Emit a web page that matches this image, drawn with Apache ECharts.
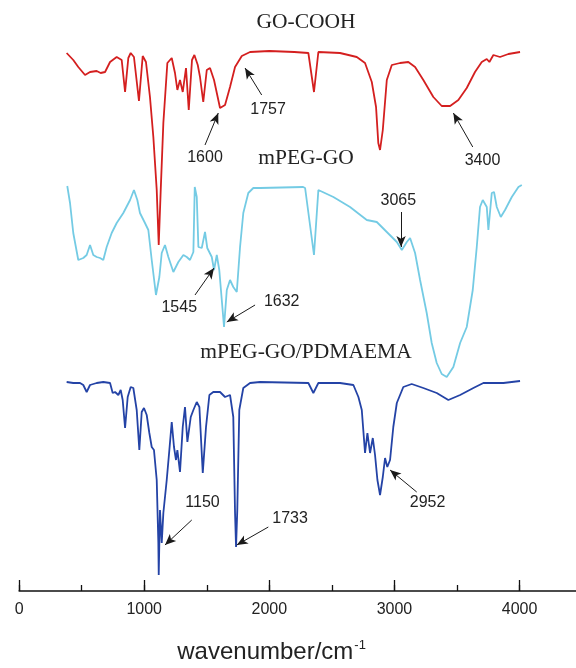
<!DOCTYPE html>
<html>
<head>
<meta charset="utf-8">
<script src="https://cdn.jsdelivr.net/npm/echarts@6/dist/echarts.min.js"></script>
<style>
  html, body { margin: 0; padding: 0; background: #fff; }
  #chartDom { width: 576px; height: 668px; }
</style>
</head>
<body>
<div id="chartDom"></div>
<script>
// FTIR spectra, offset vertically (arbitrary transmittance units)
// [wavenumber, offset transmittance]
const goCooh = [
  [380, 538], [433, 531], [473, 524], [527, 516], [567, 519], [620, 520], [652, 518],
  [687, 519], [727, 529], [780, 534], [820, 531], [847, 499], [873, 533], [892, 538],
  [918, 534], [958, 490], [988, 535], [1014, 529], [1046, 494], [1073, 454], [1100, 401],
  [1116, 346], [1132, 401], [1153, 468], [1185, 528], [1220, 533], [1246, 518], [1265, 501],
  [1286, 511], [1308, 499], [1334, 523], [1356, 481], [1382, 531], [1401, 536], [1428, 526],
  [1446, 514], [1472, 489], [1500, 521], [1526, 523], [1558, 511], [1606, 483], [1646, 486],
  [1686, 504], [1726, 524], [1780, 535], [1846, 539], [2000, 540], [2200, 539], [2312, 538],
  [2357, 499], [2392, 539], [2565, 538], [2699, 534], [2765, 528], [2819, 509], [2853, 484],
  [2871, 448], [2885, 441], [2907, 461], [2939, 511], [2979, 526], [3045, 528], [3111, 529],
  [3165, 524], [3231, 511], [3311, 494], [3378, 485], [3445, 485], [3511, 491], [3578, 503],
  [3644, 519], [3698, 529], [3738, 532], [3759, 529], [3791, 536], [3844, 534], [3911, 537],
  [4004, 539]
];
const mpegGo = [
  [385, 405], [407, 388], [433, 358], [473, 331], [513, 333], [540, 336], [567, 346],
  [593, 336], [620, 334], [647, 333], [673, 331], [700, 344], [740, 358], [780, 368],
  [833, 378], [887, 391], [918, 401], [945, 391], [966, 378], [1006, 368], [1033, 361],
  [1060, 331], [1094, 296], [1121, 314], [1140, 338], [1166, 346], [1193, 334], [1233, 319],
  [1273, 329], [1313, 336], [1340, 334], [1366, 331], [1393, 339], [1404, 404], [1420, 394],
  [1433, 344], [1460, 343], [1486, 359], [1504, 343], [1540, 334], [1558, 321], [1580, 336],
  [1600, 321], [1620, 291], [1638, 264], [1660, 301], [1686, 311], [1712, 304], [1740, 299],
  [1766, 344], [1792, 378], [1832, 398], [1872, 403], [1926, 403], [2270, 404], [2286, 403],
  [2357, 336], [2392, 401], [2512, 394], [2645, 384], [2779, 371], [2859, 369], [2939, 359],
  [3019, 349], [3059, 341], [3099, 349], [3125, 353], [3165, 338], [3205, 311], [3258, 278],
  [3298, 248], [3338, 228], [3378, 217], [3418, 214], [3471, 224], [3525, 248], [3578, 264],
  [3626, 301], [3658, 344], [3684, 384], [3706, 391], [3738, 384], [3751, 361], [3778, 398],
  [3796, 399], [3818, 384], [3850, 374], [3884, 381], [3938, 394], [3991, 404], [4018, 406]
];
const mpegGoPdmaema = [
  [380, 209], [433, 208], [487, 208], [513, 206], [540, 199], [567, 206], [620, 208],
  [673, 209], [727, 208], [748, 198], [767, 199], [793, 196], [812, 201], [828, 191],
  [847, 163], [868, 194], [892, 204], [913, 203], [940, 181], [961, 141], [980, 179],
  [998, 183], [1020, 176], [1041, 158], [1060, 144], [1078, 141], [1100, 111], [1113, 48],
  [1116, 16], [1126, 81], [1140, 48], [1153, 78], [1180, 111], [1201, 141], [1220, 169],
  [1238, 144], [1254, 131], [1265, 141], [1286, 119], [1308, 164], [1326, 184], [1345, 149],
  [1372, 174], [1393, 181], [1420, 189], [1441, 184], [1468, 118], [1494, 164], [1521, 196],
  [1552, 199], [1606, 199], [1646, 194], [1686, 196], [1712, 174], [1726, 78], [1734, 44],
  [1744, 81], [1760, 181], [1792, 203], [1846, 208], [1926, 209], [2312, 208], [2352, 198],
  [2392, 208], [2565, 208], [2672, 206], [2712, 194], [2739, 181], [2765, 138], [2784, 158],
  [2805, 138], [2827, 153], [2845, 136], [2864, 111], [2885, 96], [2907, 114], [2925, 133],
  [2943, 124], [2965, 131], [2991, 164], [3019, 188], [3071, 204], [3138, 207], [3231, 203],
  [3338, 198], [3431, 191], [3525, 196], [3631, 203], [3711, 208], [3764, 208], [3871, 208],
  [4004, 210]
];
const seriesNames = ['GO-COOH', 'mPEG-GO', 'mPEG-GO/PDMAEMA'];
const xTicks = [0, 1000, 2000, 3000, 4000];

// peak annotations: text position, arrow tail, arrow head (data coords)
const peakNotes = [
  { s: 0, text: '1757', at: [1990, 481], tail: [1939, 496], head: [1806, 523] },
  { s: 0, text: '1600', at: [1486, 433], tail: [1486, 446], head: [1592, 478] },
  { s: 0, text: '3400', at: [3704, 430], tail: [3626, 444], head: [3471, 478] },
  { s: 1, text: '3065', at: [3031, 390], tail: [3053, 379], head: [3053, 344] },
  { s: 1, text: '1545', at: [1280, 283], tail: [1406, 296], head: [1558, 323] },
  { s: 1, text: '1632', at: [2099, 289], tail: [1886, 286], head: [1660, 269] },
  { s: 2, text: '1150', at: [1466, 88], tail: [1380, 71], head: [1166, 46] },
  { s: 2, text: '1733', at: [2166, 72], tail: [1992, 64], head: [1740, 46] },
  { s: 2, text: '2952', at: [3265, 88], tail: [3178, 99], head: [2965, 121] }
];

const colors = ['#d41f1f', '#74cbe4', '#2443a6'];
const labelFont = 'Liberation Sans, Arial, sans-serif';
const titleFont = 'Liberation Serif, Times New Roman, serif';

const chart = echarts.init(document.getElementById('chartDom'), null, { renderer: 'canvas' });

const dataSets = [goCooh, mpegGo, mpegGoPdmaema];
const series = dataSets.map((d, i) => {
  const notes = peakNotes.filter((n) => n.s === i);
  return {
    name: seriesNames[i],
    type: 'line',
    data: d,
    showSymbol: false,
    symbol: 'none',
    lineStyle: { color: colors[i], width: 1.8 },
    itemStyle: { color: colors[i] },
    z: 2 + i,
    markLine: {
      silent: true,
      animation: false,
      symbolSize: [7, 11],
      label: { show: false },
      lineStyle: { color: '#1a1a1a', width: 1, type: 'solid' },
      data: notes.map((n) => [
        { coord: n.tail, symbol: 'none' },
        { coord: n.head, symbol: 'arrow' }
      ])
    },
    markPoint: {
      silent: true,
      animation: false,
      symbol: 'circle',
      symbolSize: 0,
      label: {
        show: true,
        position: 'inside',
        color: '#222',
        fontSize: 16,
        fontFamily: labelFont,
        formatter: (p) => p.name
      },
      data: notes.map((n) => ({ name: n.text, coord: n.at }))
    }
  };
});

chart.setOption({
  animation: false,
  backgroundColor: '#fff',
  // x scale: 0 at 19px, 125px per 1000 cm-1; axis runs past the right edge
  grid: { left: 19.1, width: 563, top: 0, bottom: 77, outerBoundsMode: 'none', containLabel: false },
  xAxis: [
    {
      type: 'value',
      position: 'bottom',
      min: 0,
      max: 4500,
      interval: 1000,
      splitLine: { show: false },
      axisLine: { show: true, onZero: false, lineStyle: { color: '#111', width: 1.5 } },
      axisTick: { show: true, inside: true, length: 11, lineStyle: { color: '#111', width: 1.3 } },
      axisLabel: {
        margin: 11,
        fontSize: 16,
        color: '#222',
        fontFamily: labelFont,
        showMaxLabel: false,
        formatter: (v) => (xTicks.indexOf(v) >= 0 ? String(v) : '')
      },
      name: '{a|wavenumber/cm}{b|-1}',
      nameLocation: 'middle',
      nameGap: 48,
      nameTextStyle: {
        padding: [0, 58, 0, 0],
        rich: {
          a: { fontSize: 24, color: '#222', fontFamily: labelFont },
          b: { fontSize: 13, color: '#222', fontFamily: labelFont, verticalAlign: 'top', padding: [0, 0, 13, 1] }
        }
      }
    },
    {
      type: 'value',
      position: 'bottom',
      offset: 0,
      min: 0,
      max: 4500,
      interval: 500,
      splitLine: { show: false },
      axisLine: { show: false },
      axisTick: { show: true, inside: true, length: 6, lineStyle: { color: '#111', width: 1.3 } },
      axisLabel: { show: false }
    }
  ],
  yAxis: {
    type: 'value',
    min: 0,
    max: 591,
    show: false,
    splitLine: { show: false }
  },
  graphic: [
    { type: 'text', x: 306, y: 22.5, style: { text: seriesNames[0], fill: '#222', font: '21.5px ' + titleFont, textAlign: 'center', textVerticalAlign: 'middle' } },
    { type: 'text', x: 306, y: 158, style: { text: seriesNames[1], fill: '#222', font: '21.5px ' + titleFont, textAlign: 'center', textVerticalAlign: 'middle' } },
    { type: 'text', x: 306, y: 352, style: { text: seriesNames[2], fill: '#222', font: '21.5px ' + titleFont, textAlign: 'center', textVerticalAlign: 'middle' } }
  ],
  series: series
});
</script>
</body>
</html>
